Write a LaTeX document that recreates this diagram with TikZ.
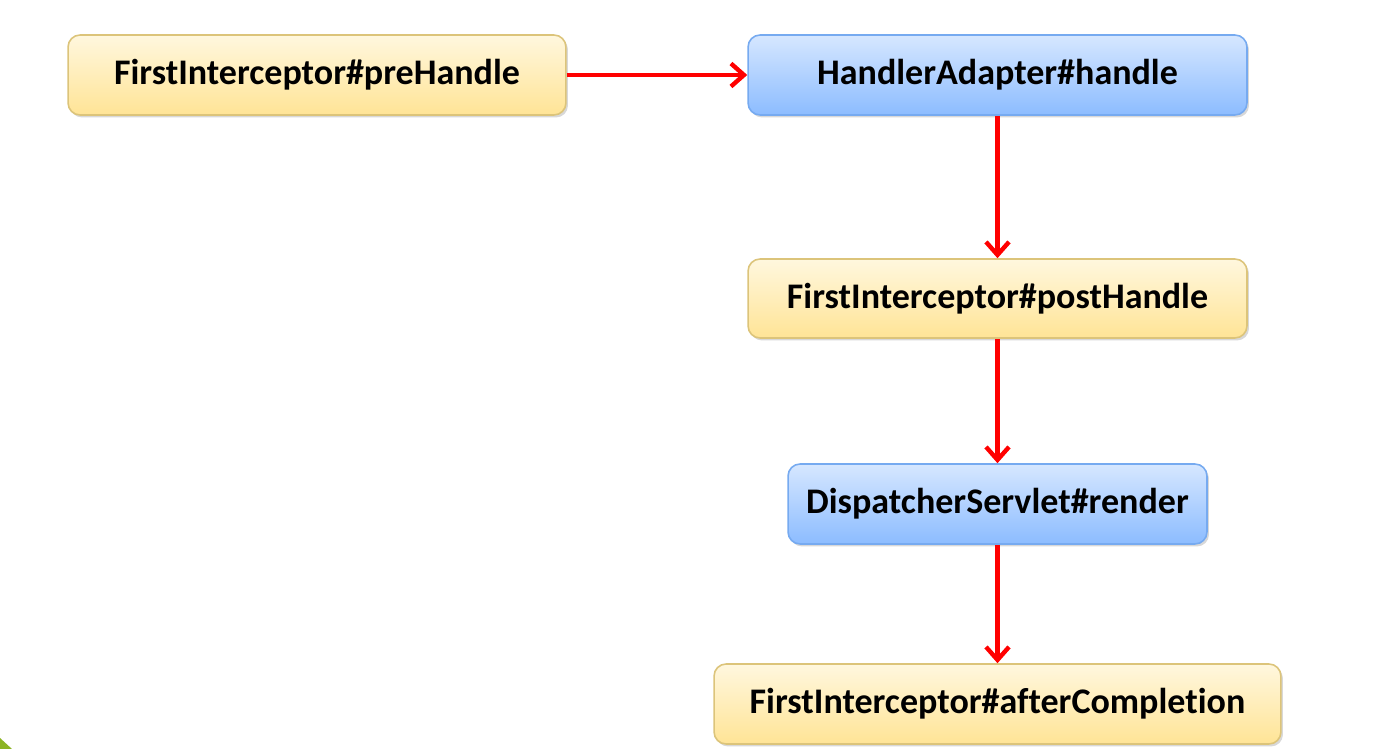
\documentclass[tikz,border=0pt]{standalone}
\usepackage{fontspec}
\setmainfont[Ligatures={NoCommon}]{Carlito}
\usetikzlibrary{arrows.meta,shadows}
\definecolor{ytop}{HTML}{FFF7DE}
\definecolor{ybot}{HTML}{FFE496}
\definecolor{yborder}{HTML}{DCC47A}
\definecolor{btop}{HTML}{D6E7FF}
\definecolor{bbot}{HTML}{8CBCFF}
\definecolor{bborder}{HTML}{76AAF0}
\definecolor{arrowred}{HTML}{FF0000}
\definecolor{leafgreen}{HTML}{8CB424}
\tikzset{
  box/.style={rounded corners=0.24cm, line width=0.9pt, inner sep=0pt,
    font=\fontsize{20.5}{24}\selectfont\bfseries,
    drop shadow={shadow xshift=0.04cm, shadow yshift=-0.05cm, opacity=0.25, fill=black!60}},
  ybox/.style={box, draw=yborder, top color=ytop, bottom color=ybot},
  bbox/.style={box, draw=bborder, top color=btop, bottom color=bbot},
  flow/.style={draw=arrowred, line width=2.5pt, -{Straight Barb[length=0.26cm, width=0.46cm, line width=2.5pt]}}
}
\begin{document}
\begin{tikzpicture}[x=0.02cm, y=-0.02cm]
\useasboundingbox (0,0) rectangle (1383,749);
\fill[white] (0,0) rectangle (1383,749);
\fill[leafgreen] (0,738) -- (12,749) -- (0,749) -- cycle;
\node[ybox, minimum width=9.96cm, minimum height=1.6cm] (pre) at (317,75) {FirstInterceptor\#preHandle};
\node[bbox, minimum width=9.98cm, minimum height=1.6cm] (handle) at (997.5,75) {HandlerAdapter\#handle};
\node[ybox, minimum width=9.98cm, minimum height=1.58cm] (post) at (997.5,298.5) {FirstInterceptor\#postHandle};
\node[bbox, minimum width=8.38cm, minimum height=1.6cm] (render) at (997.5,504) {DispatcherServlet\#render};
\node[ybox, minimum width=11.34cm, minimum height=1.6cm] (after) at (997.5,704) {FirstInterceptor\#afterCompletion};
\draw[flow] (pre.east) -- (handle.west);
\draw[flow] (handle.south) -- (post.north);
\draw[flow] (post.south) -- (render.north);
\draw[flow] (render.south) -- (after.north);
\end{tikzpicture}
\end{document}
